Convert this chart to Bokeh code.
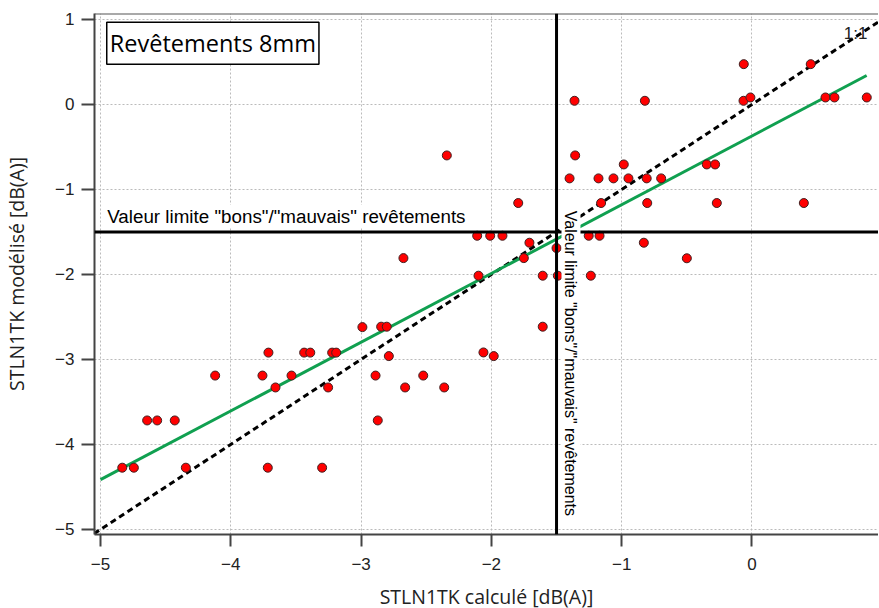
from math import pi
from bokeh.plotting import figure
from bokeh.models import Span, Label, FixedTicker, Range1d, ColumnDataSource
from bokeh.embed import file_html
from bokeh.resources import INLINE

# STLN1TK calculé (x) vs STLN1TK modélisé (y), dB(A)
calc_x = [-1.362, -1.357, -2.342, -1.40, -1.178, -1.063, -0.948, -0.984, -0.808, -0.697,
          -0.822, -0.063, -0.065, -0.012, 0.451, 0.564, 0.633, 0.881, -0.347, -0.283,
          -1.794, -1.158, -0.804, -0.27, 0.398, -0.830, -0.50, -2.109, -2.009, -1.915,
          -1.253, -1.17, -1.708, -1.50, -1.751, -2.675, -2.099, -1.606, -1.49, -1.237,
          -1.606, -2.846, -2.803, -2.99, -2.061, -1.982, -2.787, -2.523, -2.662, -2.362,
          -3.711, -3.437, -3.39, -3.222, -3.191, -4.12, -3.757, -3.534, -2.889, -3.657,
          -3.253, -4.642, -4.565, -4.43, -4.833, -4.744, -4.345, -3.716, -3.299, -2.872]
model_y = [0.043, -0.60, -0.60, -0.87, -0.87, -0.87, -0.87, -0.706, -0.87, -0.87,
           0.043, 0.474, 0.043, 0.082, 0.474, 0.082, 0.082, 0.082, -0.706, -0.706,
           -1.16, -1.16, -1.16, -1.16, -1.16, -1.627, -1.81, -1.545, -1.545, -1.545,
           -1.545, -1.545, -1.627, -1.69, -1.808, -1.808, -2.015, -2.015, -2.015, -2.015,
           -2.615, -2.615, -2.615, -2.62, -2.918, -2.961, -2.961, -3.19, -3.33, -3.33,
           -2.92, -2.92, -2.92, -2.92, -2.92, -3.19, -3.19, -3.19, -3.19, -3.33,
           -3.33, -3.718, -3.718, -3.718, -4.274, -4.274, -4.274, -4.274, -4.274, -3.718]

# regression line end points and 1:1 line
fit_x = [-5.0, 0.88]
fit_y = [-4.415, 0.341]
ref_x = [-5.05, 0.97]
ref_y = [-5.05, 0.97]

x_ticks = [-5, -4, -3, -2, -1, 0]
y_ticks = [-5, -4, -3, -2, -1, 0, 1]
limit_value = -1.5
x_min, x_max = -5.046, 0.971
y_min, y_max = -5.06, 1.07

title_text = "Revêtements 8mm"
limit_text = 'Valeur limite "bons"/"mauvais" revêtements'
x_label = "STLN1TK calculé [dB(A)]"
y_label = "STLN1TK modélisé [dB(A)]"

p = figure(frame_width=784, frame_height=521,
           x_range=Range1d(x_min, x_max), y_range=Range1d(y_min, y_max),
           output_backend="svg", toolbar_location=None,
           min_border_left=87, min_border_right=0, min_border_top=13, min_border_bottom=66)

p.background_fill_color = "white"
p.border_fill_color = "white"
p.outline_line_color = None

for ax in (p.xaxis, p.yaxis):
    ax.axis_line_color = "#444444"
    ax.axis_line_width = 2
    ax.major_tick_line_color = "#444444"
    ax.major_tick_line_width = 2
    ax.major_tick_in = 0
    ax.minor_tick_line_color = None
    ax.major_label_text_font = "Liberation Sans"
    ax.major_label_text_font_size = "17px"
    ax.major_label_text_color = "#222222"
    ax.axis_label_text_font = "Open Sans"
    ax.axis_label_text_font_size = "19.5px"
    ax.axis_label_text_font_style = "normal"
    ax.axis_label_text_color = "#222222"

p.xaxis.ticker = FixedTicker(ticks=x_ticks)
p.yaxis.ticker = FixedTicker(ticks=y_ticks)
p.xaxis.major_tick_out = 12
p.yaxis.major_tick_out = 13
p.xaxis.major_label_standoff = 11
p.yaxis.major_label_standoff = 7
p.xaxis.axis_label = x_label
p.yaxis.axis_label = y_label
p.xaxis.axis_label_standoff = 10
p.yaxis.axis_label_standoff = 22

for g in (p.xgrid, p.ygrid):
    g.grid_line_color = "#bbbbbb"
    g.grid_line_dash = "2 2"
    g.grid_line_width = 1

# top frame border
p.add_layout(Span(location=y_max, dimension="width", line_color="#555555", line_width=2))

p.line(ref_x, ref_y, line_color="black", line_width=3, line_dash="6 4")
p.line(fit_x, fit_y, line_color="#10a050", line_width=3)

src = ColumnDataSource(dict(x=calc_x, y=model_y))
p.scatter("x", "y", source=src, size=9, fill_color="#ff0000",
          line_color="#402020", line_width=1)

p.add_layout(Span(location=limit_value, dimension="width", line_color="black", line_width=3))
p.add_layout(Span(location=limit_value, dimension="height", line_color="black", line_width=3))

p.add_layout(Label(x=-4.956, y=-1.45, text=limit_text, text_align="left",
                   text_baseline="bottom", text_font="Liberation Sans",
                   text_font_size="18.8px", text_color="black",
                   background_fill_color="white", padding=1))
p.add_layout(Label(x=-1.462, y=-1.24, text=limit_text, angle=-pi / 2,
                   text_align="left", text_baseline="bottom", text_font="Liberation Sans",
                   text_font_size="16px", text_color="black",
                   background_fill_color="white", padding=1))
p.add_layout(Label(x=0.886, y=0.835, text="1:1", text_align="right",
                   text_baseline="alphabetic", text_font="Liberation Sans",
                   text_font_size="17px", text_color="#222222"))
p.add_layout(Label(x=-4.952, y=0.968, text=title_text, text_align="left",
                   text_baseline="top", text_font="Open Sans", text_font_size="23.5px",
                   text_color="black", background_fill_color="white",
                   border_line_color="black", border_line_width=1.5,
                   padding=dict(left=3, right=3, top=5, bottom=5)))

open("out.html", "w").write(file_html(p, INLINE))
